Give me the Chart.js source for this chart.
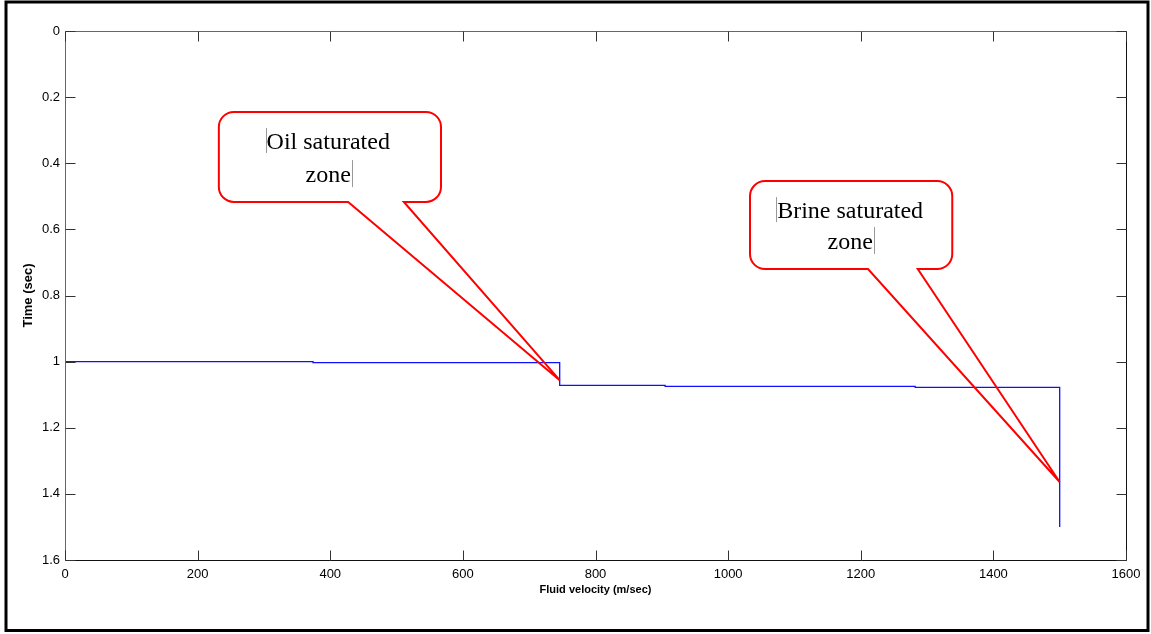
<!DOCTYPE html>
<html>
<head>
<meta charset="utf-8">
<script src="https://cdn.jsdelivr.net/npm/chart.js@4.4.0/dist/chart.umd.min.js"></script>
<style>
html, body { margin: 0; padding: 0; background: #fff; }
#wrap { position: relative; width: 1151px; height: 634px; }
</style>
</head>
<body>
<div id="wrap"><canvas id="velocityChart"></canvas></div>
<script>
// step profile: x where each level ends, and the level reached after the step
const velocity = [0, 374, 746, 905, 1282, 1500];
const time = [1.000, 1.003, 1.072, 1.075, 1.078, 1.5];

const xTicks = [0, 200, 400, 600, 800, 1000, 1200, 1400, 1600];
const xTickLabels = ['0', '200', '400', '600', '800', '1000', '1200', '1400', '1600'];
const yTicks = [0, 0.2, 0.4, 0.6, 0.8, 1, 1.2, 1.4, 1.6];
const yTickLabels = ['0', '0.2', '0.4', '0.6', '0.8', '1', '1.2', '1.4', '1.6'];

const xTitle = 'Fluid velocity (m/sec)';
const yTitle = 'Time (sec)';

// callouts, in data units
const callouts = [
    {
        lines: ['Oil saturated', 'zone'],
        box: { x1: 232, x2: 567, y1: 0.245, y2: 0.517 },
        tail: { x1: 427, x2: 511 },
        tip: { x: 746, y: 1.056 },
        textX: 397,
        baselines: [0.357, 0.457]
    },
    {
        lines: ['Brine saturated', 'zone'],
        box: { x1: 1033, x2: 1338, y1: 0.454, y2: 0.720 },
        tail: { x1: 1211, x2: 1286 },
        tip: { x: 1500, y: 1.364 },
        textX: 1184,
        baselines: [0.566, 0.659]
    }
];

const points = velocity.map((v, i) => ({ x: v, y: time[i] }));

const fixedTicks = (values) => (scale) => {
    scale.ticks = values.map(v => ({ value: v }));
};

// outer frame, axes box, inward tick marks and callouts
const matlabLook = {
    id: 'matlabLook',
    beforeDraw(chart) {
        const ctx = chart.ctx;
        ctx.save();
        ctx.strokeStyle = '#000';
        ctx.lineWidth = 3;
        ctx.strokeRect(6, 2, 1142, 628.5);
        ctx.restore();
    },
    afterDatasetsDraw(chart) {
        const ctx = chart.ctx;
        const a = chart.chartArea;
        const xs = chart.scales.x, ys = chart.scales.y;
        const L = Math.round(a.left) + 0.5, R = Math.round(a.right) + 0.5;
        const T = Math.round(a.top) + 0.5, B = Math.round(a.bottom) + 0.5;
        ctx.save();
        ctx.lineWidth = 1;
        ctx.strokeStyle = '#666';
        ctx.beginPath();
        ctx.moveTo(L, B); ctx.lineTo(L, T); ctx.lineTo(R, T);
        ctx.stroke();
        ctx.strokeStyle = '#111';
        ctx.beginPath();
        ctx.moveTo(R, T); ctx.lineTo(R, B); ctx.lineTo(L, B);
        ctx.stroke();

        const len = 10;
        ctx.strokeStyle = '#333';
        ctx.beginPath();
        xTicks.forEach(v => {
            const px = Math.round(xs.getPixelForValue(v)) + 0.5;
            ctx.moveTo(px, B); ctx.lineTo(px, B - len);
            ctx.moveTo(px, T); ctx.lineTo(px, T + len);
        });
        yTicks.forEach(v => {
            const py = Math.round(ys.getPixelForValue(v)) + 0.5;
            ctx.moveTo(L, py); ctx.lineTo(L + len, py);
            ctx.moveTo(R, py); ctx.lineTo(R - len, py);
        });
        ctx.stroke();

        callouts.forEach(c => {
            const x1 = xs.getPixelForValue(c.box.x1), x2 = xs.getPixelForValue(c.box.x2);
            const y1 = ys.getPixelForValue(c.box.y1), y2 = ys.getPixelForValue(c.box.y2);
            const t1 = xs.getPixelForValue(c.tail.x1), t2 = xs.getPixelForValue(c.tail.x2);
            const tx = xs.getPixelForValue(c.tip.x), ty = ys.getPixelForValue(c.tip.y);
            const r = 15;

            // white box
            ctx.fillStyle = '#fff';
            ctx.beginPath();
            ctx.roundRect(x1, y1, x2 - x1, y2 - y1, r);
            ctx.fill();

            // outline with tail
            ctx.beginPath();
            ctx.moveTo(x1 + r, y1);
            ctx.arcTo(x2, y1, x2, y2, r);
            ctx.arcTo(x2, y2, x1, y2, r);
            ctx.lineTo(t2, y2);
            ctx.lineTo(tx, ty);
            ctx.lineTo(t1, y2);
            ctx.arcTo(x1, y2, x1, y1, r);
            ctx.arcTo(x1, y1, x2, y1, r);
            ctx.closePath();
            ctx.strokeStyle = '#ff0000';
            ctx.lineWidth = 2;
            ctx.lineJoin = 'miter';
            ctx.stroke();

            // text
            ctx.fillStyle = '#000';
            ctx.font = '24px "Liberation Serif", "Times New Roman", serif';
            ctx.textAlign = 'center';
            ctx.textBaseline = 'alphabetic';
            const cx = xs.getPixelForValue(c.textX);
            const b = c.baselines.map(v => ys.getPixelForValue(v));
            c.lines.forEach((s, i) => ctx.fillText(s, cx, b[i]));

            // text frame markers
            const w1 = ctx.measureText(c.lines[0]).width;
            const w2 = ctx.measureText(c.lines[c.lines.length - 1]).width;
            ctx.strokeStyle = '#999';
            ctx.lineWidth = 1;
            ctx.beginPath();
            const lx = Math.round(cx - w1 / 2 - 1) + 0.5;
            const rx = Math.round(cx + w2 / 2 + 1) + 0.5;
            ctx.moveTo(lx, b[0] - 21); ctx.lineTo(lx, b[0] + 4);
            ctx.moveTo(rx, b[1] - 22); ctx.lineTo(rx, b[1] + 5);
            ctx.stroke();
        });
        ctx.restore();
    }
};

const tickFont = { family: '"Liberation Sans", Arial, sans-serif', size: 13 };

const velocityChart = new Chart(document.getElementById('velocityChart').getContext('2d'), {
    type: 'line',
    data: {
        datasets: [{
            data: points,
            borderColor: '#1010ff',
            borderWidth: 1.3,
            pointRadius: 0,
            stepped: true,
            fill: false
        }]
    },
    options: {
        responsive: true,
        maintainAspectRatio: false,
        animation: false,
        layout: { padding: { left: 0, top: 31, right: 25, bottom: 0 } },
        plugins: {
            legend: { display: false },
            tooltip: { enabled: false }
        },
        scales: {
            x: {
                type: 'linear',
                min: 0,
                max: 1600,
                afterBuildTicks: fixedTicks(xTicks),
                afterFit: (s) => { s.height = 74; },
                grid: { display: false, drawTicks: false },
                border: { display: false },
                ticks: {
                    color: '#000',
                    font: tickFont,
                    padding: 7,
                    maxRotation: 0,
                    autoSkip: false,
                    callback: (v, i) => xTickLabels[i]
                },
                title: {
                    display: true,
                    text: xTitle,
                    color: '#000',
                    font: { family: '"Liberation Sans", Arial, sans-serif', size: 11, weight: 'bold' },
                    padding: { top: 0, bottom: 37 }
                }
            },
            y: {
                type: 'linear',
                reverse: true,
                min: 0,
                max: 1.6,
                afterBuildTicks: fixedTicks(yTicks),
                afterFit: (s) => { s.width = 65; },
                grid: { display: false, drawTicks: false },
                border: { display: false },
                ticks: {
                    color: '#000',
                    font: tickFont,
                    padding: 5,
                    autoSkip: false,
                    callback: (v, i) => yTickLabels[i]
                },
                title: {
                    display: true,
                    text: yTitle,
                    color: '#000',
                    font: { family: '"Liberation Sans", Arial, sans-serif', size: 13, weight: 'bold' },
                    padding: { top: 21, bottom: 0 }
                }
            }
        }
    },
    plugins: [matlabLook]
});
</script>
</body>
</html>
